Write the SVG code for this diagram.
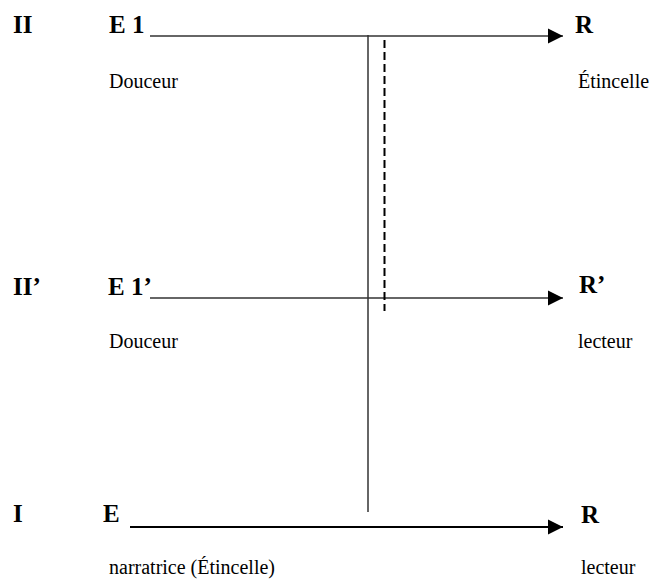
<svg xmlns="http://www.w3.org/2000/svg" width="656" height="581" viewBox="0 0 656 581">
<defs>
<marker id="ah" markerUnits="userSpaceOnUse" markerWidth="16" markerHeight="16" refX="15" refY="8" orient="auto" viewBox="0 0 16 16">
<path d="M0,0.5 L15,8 L0,15.5 Z" fill="#000"/>
</marker>
<style>
.b{font-family:"Liberation Serif","Times New Roman",serif;font-weight:bold;font-size:25px;fill:#000}
.r{font-family:"Liberation Serif","Times New Roman",serif;font-size:20px;fill:#000}
.ln{stroke:#333;stroke-width:1.5;fill:none}
</style>
</defs>
<rect width="656" height="581" fill="#fff"/>
<g id="connectors">
<line class="ln" x1="150" y1="36" x2="563" y2="36" marker-end="url(#ah)"/>
<line class="ln" x1="150" y1="298" x2="563" y2="298" marker-end="url(#ah)"/>
<line x1="130" y1="527" x2="563" y2="527" stroke="#000" stroke-width="2.2" marker-end="url(#ah)"/>
<line class="ln" x1="368" y1="35" x2="368" y2="512"/>
<line x1="384.5" y1="40" x2="384.5" y2="311" stroke="#000" stroke-width="2" stroke-dasharray="8,4"/>
</g>
<g id="level-II">
<text class="b" x="13" y="33">II</text>
</g>
<g id="E1">
<text class="b" x="109" y="33">E 1</text>
<text class="r" x="109" y="88">Douceur</text>
</g>
<g id="R-top">
<text class="b" x="575" y="33">R</text>
<text class="r" x="578" y="88">Étincelle</text>
</g>
<g id="level-IIp">
<text class="b" x="13" y="295">II’</text>
</g>
<g id="E1p">
<text class="b" x="108" y="295">E 1’</text>
<text class="r" x="109" y="348">Douceur</text>
</g>
<g id="R-mid">
<text class="b" x="579" y="293">R’</text>
<text class="r" x="578" y="348">lecteur</text>
</g>
<g id="level-I">
<text class="b" x="13" y="522">I</text>
</g>
<g id="E">
<text class="b" x="103" y="522">E</text>
<text class="r" x="109" y="574">narratrice (Étincelle)</text>
</g>
<g id="R-bot">
<text class="b" x="581" y="523">R</text>
<text class="r" x="581" y="574">lecteur</text>
</g>
</svg>
